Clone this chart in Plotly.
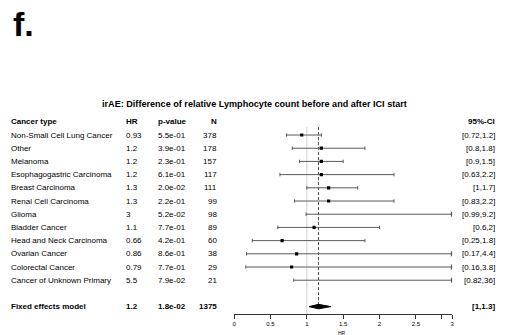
import plotly.graph_objects as go

# ---- data ---------------------------------------------------------------
cancer_types = [
    "Non-Small Cell Lung Cancer", "Other", "Melanoma", "Esophagogastric Carcinoma",
    "Breast Carcinoma", "Renal Cell Carcinoma", "Glioma", "Bladder Cancer",
    "Head and Neck Carcinoma", "Ovarian Cancer", "Colorectal Cancer",
    "Cancer of Unknown Primary",
]
hr = [0.93, 1.2, 1.2, 1.2, 1.3, 1.3, 3, 1.1, 0.66, 0.86, 0.79, 5.5]
ci_low = [0.72, 0.8, 0.9, 0.63, 1.0, 0.83, 0.99, 0.6, 0.25, 0.17, 0.16, 0.82]
ci_high = [1.2, 1.8, 1.5, 2.2, 1.7, 2.2, 9.2, 2.0, 1.8, 4.4, 3.8, 36]
p_values = ["5.5e-01", "3.9e-01", "2.3e-01", "6.1e-01", "2.0e-02", "2.2e-01",
            "5.2e-02", "7.7e-01", "4.2e-01", "8.6e-01", "7.7e-01", "7.9e-02"]
n_patients = [378, 178, 157, 117, 111, 99, 98, 89, 60, 38, 29, 21]

fixed_label = "Fixed effects model"
fixed_hr = 1.16
fixed_low = 1.03
fixed_high = 1.33
fixed_p = "1.8e-02"
fixed_n = 1375

x_tick_vals = [0, 0.5, 1, 1.5, 2, 2.5, 2.86, 3]
x_tick_text = ["0", "0.5", "1", "1.5", "2", "2.5", "", "3"]
x_max = 3

title = "irAE: Difference of relative Lymphocyte count before and after ICI start"

# ---- helpers ------------------------------------------------------------
W, H = 509, 335
FONT = "Liberation Sans, Arial, sans-serif"


def fmt(v):
    return f"{v:.2g}"


def px(x):
    return x / W


rows = list(range(len(cancer_types)))
fixed_row = len(cancer_types) + 1
header_row = -1
title_row = -2.35
axis_bottom = 13.56
top_row = -10.23

fig = go.Figure()

line_col = "#5a5a5a"
cap = 0.13

# reference line at HR = 1
fig.add_trace(go.Scatter(x=[1, 1], y=[-0.6, axis_bottom], mode="lines",
                         line=dict(color="#d0d0d0", width=1), hoverinfo="skip"))
# fixed-effect estimate (dashed)
fig.add_trace(go.Scatter(x=[fixed_hr, fixed_hr], y=[-0.6, fixed_row], mode="lines",
                         line=dict(color="#444444", width=1, dash="3px,2px"),
                         hoverinfo="skip"))

# confidence intervals
for i, lo, hi in zip(rows, ci_low, ci_high):
    right = min(hi, x_max)
    fig.add_trace(go.Scatter(x=[lo, right], y=[i, i], mode="lines",
                             line=dict(color=line_col, width=1), hoverinfo="skip"))
    fig.add_trace(go.Scatter(x=[lo, lo], y=[i - cap, i + cap], mode="lines",
                             line=dict(color=line_col, width=1), hoverinfo="skip"))
    if hi > x_max:
        fig.add_trace(go.Scatter(x=[x_max], y=[i], mode="markers",
                                 marker=dict(symbol="triangle-right", size=5,
                                             color=line_col), hoverinfo="skip"))
    else:
        fig.add_trace(go.Scatter(x=[hi, hi], y=[i - cap, i + cap], mode="lines",
                                 line=dict(color=line_col, width=1), hoverinfo="skip"))

# point estimates inside the plotted range
pts = [(h, i) for h, i in zip(hr, rows) if h < x_max]
fig.add_trace(go.Scatter(x=[p[0] for p in pts], y=[p[1] for p in pts], mode="markers",
                         marker=dict(symbol="square", size=3.2, color="black",
                                     line=dict(width=0)),
                         hoverinfo="skip"))

# diamond for fixed-effect model
dh = 0.17
fig.add_trace(go.Scatter(
    x=[fixed_low, fixed_hr, fixed_high, fixed_hr, fixed_low],
    y=[fixed_row, fixed_row - dh, fixed_row, fixed_row + dh, fixed_row],
    mode="lines", fill="toself", fillcolor="black",
    line=dict(color="black", width=1), hoverinfo="skip"))

# ---- text columns -------------------------------------------------------
ann = []
fs = 8


def add_text(x, y, text, anchor="left", bold=False, size=fs, yref="y"):
    ann.append(dict(x=px(x), y=y, xref="paper", yref=yref, text=f"<b>{text}</b>" if bold else text,
                    showarrow=False, xanchor=anchor, yanchor="middle",
                    font=dict(family=FONT, size=size, color="black")))


add_text(7, header_row, "Cancer type", bold=True)
add_text(123, header_row, "HR", bold=True)
add_text(155, header_row, "p-value", bold=True)
add_text(219, header_row, "N", anchor="right", bold=True)
add_text(499, header_row, "95%-CI", anchor="right", bold=True)

for i, name, h, p, n, lo, hi in zip(rows, cancer_types, hr, p_values, n_patients,
                                    ci_low, ci_high):
    add_text(7, i, name)
    add_text(123, i, fmt(h))
    add_text(155, i, p)
    add_text(219, i, str(n), anchor="right")
    add_text(499, i, f"[{fmt(lo)},{fmt(hi)}]", anchor="right")

add_text(7, fixed_row, fixed_label, bold=True)
add_text(123, fixed_row, fmt(fixed_hr), bold=True)
add_text(155, fixed_row, fixed_p, bold=True)
add_text(219, fixed_row, str(fixed_n), anchor="right", bold=True)
add_text(499, fixed_row, f"[{fmt(fixed_low)},{fmt(fixed_high)}]", anchor="right", bold=True)

# title
ann.append(dict(x=px(254), y=title_row, xref="paper", yref="y", text=f"<b>{title}</b>",
                showarrow=False, xanchor="center", yanchor="middle",
                font=dict(family=FONT, size=9.1, color="black")))
# panel letter
ann.append(dict(x=px(9), y=1 - 24 / H, xref="paper", yref="paper", text="<b>f.</b>",
                showarrow=False, xanchor="left", yanchor="middle",
                font=dict(family=FONT, size=34, color="black")))
# axis title
ann.append(dict(x=px(343), y=1 - 333 / H, xref="paper", yref="paper", text="HR",
                showarrow=False, xanchor="center", yanchor="middle",
                font=dict(family=FONT, size=5, color="black")))

fig.update_layout(
    width=W, height=H,
    margin=dict(l=0, r=0, t=0, b=0),
    paper_bgcolor="white", plot_bgcolor="white",
    showlegend=False,
    annotations=ann,
    xaxis=dict(domain=[234 / W, 453.7 / W], range=[0, x_max],
               tickvals=x_tick_vals, ticktext=x_tick_text,
               showline=True, linecolor="#333333", linewidth=1,
               ticks="outside", ticklen=4, tickcolor="#333333", tickwidth=1,
               showgrid=False, zeroline=False,
               tickfont=dict(family=FONT, size=6, color="black")),
    yaxis=dict(domain=[1 - 314 / H, 1], range=[axis_bottom, top_row],
               visible=False, showgrid=False, zeroline=False),
)

fig.write_html("out.html")
